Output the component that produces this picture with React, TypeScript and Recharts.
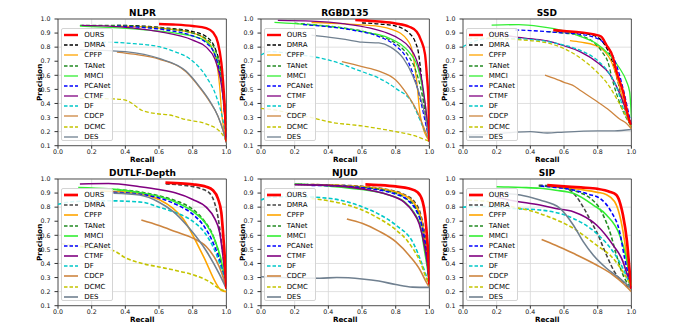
import React from "react";
import { LineChart, Line, XAxis, YAxis, CartesianGrid, Legend, ReferenceArea } from "recharts";

type Pt = [number, number];

const METHODS = ["OURS", "DMRA", "CPFP", "TANet", "MMCI", "PCANet", "CTMF", "DF", "CDCP", "DCMC", "DES"];
const X_TICKS = [0, 0.2, 0.4, 0.6, 0.8, 1.0];
const Y_TICKS = [0.1, 0.2, 0.3, 0.4, 0.5, 0.6, 0.7, 0.8, 0.9, 1.0];

// precision-recall curves, [recall, precision]
const nlpr: Record<string, Pt[]> = {
  OURS: [[0.6, 0.965], [0.7, 0.96], [0.8, 0.95], [0.88, 0.935], [0.92, 0.905], [0.95, 0.83], [0.97, 0.69], [0.98, 0.56], [0.99, 0.38], [1.0, 0.13]],
  DMRA: [[0.35, 0.955], [0.5, 0.95], [0.65, 0.935], [0.8, 0.91], [0.88, 0.875], [0.93, 0.8], [0.96, 0.68], [0.98, 0.5], [0.995, 0.3], [1.0, 0.15]],
  CPFP: [[0.35, 0.95], [0.5, 0.945], [0.65, 0.93], [0.8, 0.9], [0.88, 0.85], [0.92, 0.78], [0.945, 0.67], [0.96, 0.52], [0.97, 0.36], [1.0, 0.13]],
  TANet: [[0.13, 0.955], [0.3, 0.955], [0.45, 0.95], [0.6, 0.935], [0.8, 0.9], [0.9, 0.84], [0.94, 0.76], [0.97, 0.6], [0.99, 0.4], [1.0, 0.15]],
  MMCI: [[0.13, 0.95], [0.3, 0.94], [0.5, 0.925], [0.7, 0.9], [0.85, 0.86], [0.92, 0.78], [0.96, 0.63], [0.98, 0.45], [1.0, 0.15]],
  PCANet: [[0.35, 0.95], [0.5, 0.94], [0.65, 0.92], [0.8, 0.88], [0.88, 0.83], [0.93, 0.75], [0.96, 0.62], [0.98, 0.45], [1.0, 0.15]],
  CTMF: [[0.14, 0.955], [0.3, 0.95], [0.45, 0.935], [0.6, 0.91], [0.8, 0.85], [0.88, 0.8], [0.93, 0.72], [0.96, 0.6], [0.98, 0.45], [1.0, 0.15]],
  DF: [[0.15, 0.835], [0.3, 0.835], [0.45, 0.825], [0.6, 0.803], [0.7, 0.765], [0.78, 0.72], [0.88, 0.59], [0.94, 0.45], [0.98, 0.28], [1.0, 0.15]],
  CDCP: [[0.35, 0.765], [0.45, 0.75], [0.6, 0.715], [0.76, 0.625], [0.84, 0.515], [0.9, 0.415], [0.95, 0.31], [0.98, 0.21], [1.0, 0.12]],
  DCMC: [[0.13, 0.436], [0.33, 0.432], [0.4, 0.424], [0.44, 0.4], [0.5, 0.35], [0.6, 0.325], [0.663, 0.318], [0.76, 0.285], [0.88, 0.255], [0.97, 0.19], [1.0, 0.13]],
  DES: [[0.13, 0.78], [0.3, 0.775], [0.4, 0.768], [0.6, 0.72], [0.76, 0.63], [0.84, 0.52], [0.9, 0.42], [0.95, 0.31], [0.98, 0.21], [1.0, 0.12]],
};

const rgbd135: Record<string, Pt[]> = {
  OURS: [[0.56, 0.993], [0.7, 0.982], [0.8, 0.968], [0.88, 0.945], [0.925, 0.91], [0.95, 0.85], [0.974, 0.75], [0.985, 0.6], [0.995, 0.4], [1.0, 0.13]],
  DMRA: [[0.6, 0.972], [0.71, 0.964], [0.8, 0.95], [0.845, 0.93], [0.88, 0.9], [0.915, 0.84], [0.935, 0.76], [0.945, 0.67], [0.965, 0.44], [0.98, 0.3], [1.0, 0.13]],
  CPFP: [[0.3, 0.975], [0.5, 0.965], [0.71, 0.946], [0.78, 0.925], [0.826, 0.9], [0.87, 0.85], [0.895, 0.79], [0.925, 0.555], [0.945, 0.32], [1.0, 0.13]],
  TANet: [[0.2, 0.97], [0.35, 0.955], [0.5, 0.935], [0.65, 0.9], [0.75, 0.86], [0.83, 0.8], [0.88, 0.73], [0.92, 0.63], [0.95, 0.5], [0.98, 0.3], [1.0, 0.13]],
  MMCI: [[0.08, 0.976], [0.3, 0.958], [0.5, 0.932], [0.65, 0.9], [0.75, 0.87], [0.83, 0.82], [0.89, 0.75], [0.93, 0.66], [0.96, 0.5], [0.98, 0.35], [1.0, 0.13]],
  PCANet: [[0.25, 0.96], [0.4, 0.945], [0.55, 0.92], [0.7, 0.875], [0.8, 0.81], [0.86, 0.73], [0.9, 0.62], [0.94, 0.46], [0.97, 0.3], [1.0, 0.13]],
  CTMF: [[0.1, 0.99], [0.3, 0.985], [0.5, 0.965], [0.65, 0.935], [0.75, 0.9], [0.82, 0.86], [0.88, 0.8], [0.92, 0.72], [0.95, 0.6], [0.975, 0.4], [1.0, 0.13]],
  DF: [[0.0, 0.744], [0.05, 0.768], [0.2, 0.75], [0.4, 0.709], [0.6, 0.626], [0.7, 0.58], [0.8, 0.507], [0.9, 0.4], [0.945, 0.28], [1.0, 0.13]],
  CDCP: [[0.48, 0.697], [0.6, 0.662], [0.7, 0.63], [0.8, 0.567], [0.865, 0.47], [0.925, 0.35], [0.965, 0.235], [1.0, 0.13]],
  DCMC: [[0.0, 0.365], [0.1, 0.35], [0.21, 0.318], [0.3, 0.3], [0.4, 0.27], [0.6, 0.24], [0.8, 0.2], [0.9, 0.175], [1.0, 0.13]],
  DES: [[0.3, 0.885], [0.41, 0.87], [0.5, 0.855], [0.6, 0.835], [0.7, 0.83], [0.77, 0.8], [0.845, 0.72], [0.9, 0.6], [0.945, 0.45], [0.975, 0.31], [1.0, 0.13]],
};

const ssd: Record<string, Pt[]> = {
  OURS: [[0.536, 0.922], [0.6, 0.915], [0.7, 0.905], [0.78, 0.89], [0.82, 0.875], [0.852, 0.815], [0.89, 0.73], [0.911, 0.63], [0.95, 0.484], [0.99, 0.27], [1.0, 0.25]],
  DMRA: [[0.55, 0.915], [0.65, 0.905], [0.75, 0.89], [0.8, 0.87], [0.84, 0.82], [0.88, 0.72], [0.91, 0.6], [0.94, 0.46], [0.97, 0.33], [1.0, 0.25]],
  CPFP: [[0.635, 0.846], [0.7, 0.835], [0.78, 0.815], [0.84, 0.77], [0.88, 0.7], [0.91, 0.6], [0.94, 0.47], [0.97, 0.33], [1.0, 0.22]],
  TANet: [[0.5, 0.91], [0.6, 0.9], [0.7, 0.88], [0.78, 0.83], [0.83, 0.76], [0.86, 0.697], [0.89, 0.555], [0.92, 0.44], [0.96, 0.32], [1.0, 0.24]],
  MMCI: [[0.17, 0.957], [0.33, 0.96], [0.46, 0.946], [0.6, 0.915], [0.7, 0.875], [0.79, 0.827], [0.87, 0.745], [0.93, 0.65], [0.97, 0.56], [0.99, 0.48], [1.0, 0.3]],
  PCANet: [[0.31, 0.922], [0.4, 0.918], [0.55, 0.905], [0.7, 0.89], [0.8, 0.86], [0.86, 0.8], [0.9, 0.71], [0.93, 0.6], [0.96, 0.46], [0.98, 0.35], [1.0, 0.25]],
  CTMF: [[0.18, 0.9], [0.3, 0.875], [0.4, 0.86], [0.5, 0.845], [0.6, 0.81], [0.7, 0.765], [0.8, 0.69], [0.87, 0.61], [0.92, 0.5], [0.96, 0.38], [1.0, 0.25]],
  DF: [[0.0, 0.803], [0.06, 0.839], [0.15, 0.86], [0.3, 0.86], [0.5, 0.84], [0.6, 0.815], [0.7, 0.775], [0.8, 0.705], [0.87, 0.61], [0.92, 0.49], [0.95, 0.37], [1.0, 0.24]],
  CDCP: [[0.487, 0.602], [0.55, 0.575], [0.6, 0.55], [0.65, 0.53], [0.7, 0.49], [0.8, 0.41], [0.87, 0.35], [0.93, 0.29], [0.97, 0.26], [1.0, 0.22]],
  DCMC: [[0.03, 0.86], [0.15, 0.865], [0.3, 0.855], [0.5, 0.83], [0.6, 0.79], [0.7, 0.72], [0.79, 0.63], [0.87, 0.52], [0.91, 0.44], [0.95, 0.35], [1.0, 0.24]],
  DES: [[0.03, 0.175], [0.15, 0.18], [0.3, 0.195], [0.4, 0.2], [0.5, 0.19], [0.6, 0.197], [0.8, 0.205], [0.9, 0.205], [1.0, 0.215]],
};

const dutlf: Record<string, Pt[]> = {
  OURS: [[0.638, 0.974], [0.7, 0.97], [0.8, 0.962], [0.88, 0.945], [0.92, 0.92], [0.95, 0.86], [0.97, 0.76], [0.98, 0.62], [0.99, 0.45], [1.0, 0.22]],
  DMRA: [[0.64, 0.965], [0.75, 0.955], [0.85, 0.93], [0.9, 0.9], [0.93, 0.83], [0.95, 0.73], [0.97, 0.56], [0.99, 0.35], [1.0, 0.22]],
  CPFP: [[0.25, 0.915], [0.35, 0.91], [0.486, 0.898], [0.6, 0.855], [0.683, 0.792], [0.742, 0.72], [0.86, 0.46], [0.97, 0.21], [1.0, 0.2]],
  TANet: [[0.35, 0.925], [0.5, 0.905], [0.6, 0.88], [0.7, 0.845], [0.8, 0.785], [0.87, 0.7], [0.92, 0.6], [0.96, 0.45], [1.0, 0.22]],
  MMCI: [[0.12, 0.94], [0.3, 0.93], [0.5, 0.9], [0.6, 0.875], [0.7, 0.835], [0.8, 0.77], [0.88, 0.68], [0.93, 0.57], [0.97, 0.42], [1.0, 0.22]],
  PCANet: [[0.33, 0.905], [0.5, 0.89], [0.6, 0.865], [0.7, 0.82], [0.8, 0.75], [0.87, 0.66], [0.92, 0.55], [0.96, 0.42], [1.0, 0.22]],
  CTMF: [[0.13, 0.965], [0.3, 0.968], [0.486, 0.945], [0.6, 0.925], [0.7, 0.9], [0.8, 0.855], [0.88, 0.8], [0.93, 0.72], [0.96, 0.62], [0.98, 0.45], [1.0, 0.22]],
  DF: [[0.0, 0.82], [0.1, 0.84], [0.3, 0.845], [0.5, 0.835], [0.6, 0.8], [0.7, 0.76], [0.8, 0.7], [0.87, 0.62], [0.92, 0.52], [0.96, 0.4], [1.0, 0.22]],
  CDCP: [[0.495, 0.709], [0.6, 0.67], [0.7, 0.625], [0.8, 0.58], [0.88, 0.52], [0.94, 0.42], [0.97, 0.34], [1.0, 0.22]],
  DCMC: [[0.02, 0.54], [0.2, 0.51], [0.33, 0.49], [0.4, 0.44], [0.5, 0.4], [0.6, 0.375], [0.7, 0.35], [0.8, 0.32], [0.9, 0.27], [0.96, 0.22], [1.0, 0.2]],
  DES: [[0.33, 0.9], [0.486, 0.886], [0.6, 0.835], [0.683, 0.77], [0.78, 0.65], [0.88, 0.49], [0.96, 0.32], [1.0, 0.22]],
};

const njud: Record<string, Pt[]> = {
  OURS: [[0.62, 0.962], [0.7, 0.957], [0.8, 0.947], [0.88, 0.932], [0.93, 0.905], [0.96, 0.84], [0.975, 0.74], [0.985, 0.6], [0.995, 0.42], [1.0, 0.25]],
  DMRA: [[0.22, 0.962], [0.4, 0.958], [0.6, 0.948], [0.75, 0.925], [0.85, 0.89], [0.91, 0.84], [0.945, 0.76], [0.97, 0.63], [0.99, 0.45], [1.0, 0.25]],
  CPFP: [[0.3, 0.96], [0.5, 0.952], [0.7, 0.932], [0.85, 0.885], [0.92, 0.81], [0.955, 0.7], [0.975, 0.55], [0.99, 0.4], [1.0, 0.25]],
  TANet: [[0.2, 0.962], [0.4, 0.955], [0.6, 0.94], [0.75, 0.915], [0.85, 0.87], [0.92, 0.79], [0.955, 0.67], [0.98, 0.5], [1.0, 0.25]],
  MMCI: [[0.2, 0.965], [0.4, 0.95], [0.6, 0.925], [0.75, 0.89], [0.85, 0.84], [0.91, 0.76], [0.95, 0.65], [0.97, 0.5], [0.99, 0.35], [1.0, 0.25]],
  PCANet: [[0.3, 0.955], [0.5, 0.948], [0.65, 0.93], [0.78, 0.9], [0.87, 0.85], [0.92, 0.78], [0.955, 0.67], [0.98, 0.5], [1.0, 0.25]],
  CTMF: [[0.2, 0.96], [0.4, 0.955], [0.6, 0.93], [0.75, 0.89], [0.85, 0.835], [0.9, 0.77], [0.94, 0.68], [0.97, 0.53], [0.99, 0.38], [1.0, 0.25]],
  DF: [[0.0, 0.85], [0.05, 0.87], [0.2, 0.875], [0.4, 0.863], [0.6, 0.803], [0.7, 0.75], [0.8, 0.673], [0.905, 0.543], [0.955, 0.4], [0.985, 0.3], [1.0, 0.25]],
  CDCP: [[0.51, 0.716], [0.6, 0.685], [0.7, 0.63], [0.8, 0.555], [0.885, 0.45], [0.945, 0.353], [0.985, 0.26], [1.0, 0.23]],
  DCMC: [[0.3, 0.862], [0.4, 0.845], [0.5, 0.82], [0.6, 0.78], [0.7, 0.72], [0.8, 0.64], [0.87, 0.56], [0.905, 0.5], [0.95, 0.4], [0.98, 0.3], [1.0, 0.25]],
  DES: [[0.0, 0.306], [0.2, 0.298], [0.35, 0.295], [0.45, 0.3], [0.6, 0.29], [0.7, 0.275], [0.8, 0.25], [0.9, 0.232], [1.0, 0.23]],
};

const sip: Record<string, Pt[]> = {
  OURS: [[0.5, 0.957], [0.6, 0.948], [0.7, 0.94], [0.8, 0.93], [0.87, 0.91], [0.911, 0.886], [0.935, 0.82], [0.95, 0.744], [0.974, 0.555], [0.99, 0.34], [1.0, 0.22]],
  DMRA: [[0.45, 0.955], [0.55, 0.95], [0.615, 0.934], [0.67, 0.88], [0.714, 0.8], [0.76, 0.7], [0.793, 0.626], [0.852, 0.46], [0.9, 0.34], [0.93, 0.29], [1.0, 0.22]],
  CPFP: [[0.5, 0.95], [0.6, 0.94], [0.7, 0.925], [0.8, 0.905], [0.85, 0.89], [0.9, 0.84], [0.93, 0.744], [0.96, 0.555], [0.98, 0.366], [1.0, 0.22]],
  TANet: [[0.45, 0.95], [0.6, 0.935], [0.7, 0.9], [0.76, 0.86], [0.812, 0.79], [0.845, 0.71], [0.872, 0.626], [0.911, 0.46], [0.95, 0.32], [1.0, 0.22]],
  MMCI: [[0.2, 0.945], [0.35, 0.94], [0.457, 0.934], [0.55, 0.92], [0.655, 0.898], [0.773, 0.815], [0.852, 0.744], [0.93, 0.602], [0.97, 0.437], [0.99, 0.3], [1.0, 0.25]],
  PCANet: [[0.46, 0.95], [0.55, 0.94], [0.655, 0.922], [0.75, 0.89], [0.812, 0.863], [0.88, 0.768], [0.93, 0.626], [0.96, 0.437], [0.985, 0.3], [1.0, 0.22]],
  CTMF: [[0.2, 0.87], [0.3, 0.845], [0.457, 0.815], [0.55, 0.79], [0.655, 0.768], [0.793, 0.673], [0.891, 0.53], [0.95, 0.413], [0.98, 0.3], [1.0, 0.22]],
  DF: [[0.0, 0.8], [0.1, 0.805], [0.2, 0.8], [0.3, 0.79], [0.457, 0.78], [0.655, 0.72], [0.793, 0.614], [0.891, 0.484], [0.95, 0.366], [1.0, 0.22]],
  CDCP: [[0.467, 0.571], [0.55, 0.53], [0.655, 0.472], [0.793, 0.389], [0.891, 0.318], [0.95, 0.26], [1.0, 0.2]],
  DCMC: [[0.03, 0.85], [0.15, 0.84], [0.3, 0.8], [0.4, 0.775], [0.5, 0.735], [0.655, 0.65], [0.793, 0.53], [0.891, 0.437], [0.95, 0.34], [1.0, 0.24]],
  DES: [[0.2, 0.9], [0.34, 0.886], [0.457, 0.85], [0.576, 0.792], [0.655, 0.673], [0.714, 0.555], [0.773, 0.46], [0.852, 0.366], [0.93, 0.295], [1.0, 0.22]],
};

const TITLES = ["NLPR", "RGBD135", "SSD", "DUTLF-Depth", "NJUD", "SIP"];
const CURVES = [nlpr, rgbd135, ssd, dutlf, njud, sip];

const COLORS: Record<string, string> = {
  OURS: "#ff0000",
  DMRA: "#000000",
  CPFP: "#ffa500",
  TANet: "#228b22",
  MMCI: "#33ee33",
  PCANet: "#0000ff",
  CTMF: "#800080",
  DF: "#00c8c8",
  CDCP: "#cd853f",
  DCMC: "#c4c400",
  DES: "#708090",
};
const DASHED = new Set(["DMRA", "TANet", "PCANet", "DF", "DCMC"]);

const FONT = "DejaVu Sans";
const PLOT_W = 168.4;
const PLOT_H = 126.7;
const COL_X = [58.3, 260.7, 462.7];
const ROW_Y = [19, 179];
const AX_W = 40;
const TOP = 4;
const CW = AX_W + PLOT_W + 6;
const CH = TOP + PLOT_H + 20;

const fmt = (v: number) => v.toFixed(1);

function lineProps(m: string, row: number) {
  const base = row === 0 ? 1.3 : 1.6;
  const color = m === "DMRA" && row === 1 ? "#444444" : COLORS[m];
  return {
    stroke: color,
    strokeWidth: m === "OURS" ? base + 1.1 : base,
    strokeDasharray: DASHED.has(m) ? "4 2.2" : undefined,
  };
}

function LegendBox({ row }: { row: number }) {
  return (
    <div
      style={{
        width: 52,
        height: 113,
        boxSizing: "border-box",
        border: "1px solid #d4d4d4",
        borderRadius: 2,
        background: "rgba(255,255,255,0.85)",
        paddingTop: 0.6,
        fontFamily: FONT,
        fontSize: 7,
        color: "#000",
      }}
    >
      {METHODS.map((m) => {
        const p = lineProps(m, row);
        return (
          <div key={m} style={{ height: 10.2, display: "flex", alignItems: "center", whiteSpace: "nowrap" }}>
            <svg width={14} height={6} style={{ marginLeft: 2, marginRight: 6, flex: "none" }}>
              <line x1={0} y1={3} x2={14} y2={3} stroke={p.stroke} strokeWidth={p.strokeWidth} strokeDasharray={p.strokeDasharray ? "3.5 2" : undefined} />
            </svg>
            <span>{m}</span>
          </div>
        );
      })}
    </div>
  );
}

function Panel({ idx }: { idx: number }) {
  const row = Math.floor(idx / 3);
  const col = idx % 3;
  const curves = CURVES[idx];
  const order = [...METHODS.slice(1), "OURS"];
  return (
    <div style={{ position: "absolute", left: COL_X[col] - AX_W, top: ROW_Y[row] - TOP, width: CW, height: CH }}>
      <div
        style={{
          position: "absolute",
          left: AX_W,
          width: PLOT_W,
          top: -8,
          height: 12,
          lineHeight: "12px",
          textAlign: "center",
          fontFamily: FONT,
          fontWeight: "bold",
          fontSize: 9,
          color: "#000",
        }}
      >
        {TITLES[idx]}
      </div>
      <LineChart width={CW} height={CH} margin={{ top: TOP, right: 6, bottom: 0, left: 0 }}>
        <CartesianGrid stroke="#d8d8d8" strokeWidth={0.8} />
        <XAxis
          type="number"
          dataKey="x"
          domain={[0, 1]}
          ticks={X_TICKS}
          tickFormatter={fmt}
          allowDataOverflow
          height={20}
          axisLine={false}
          tickSize={3}
          tickMargin={1}
          tickLine={{ stroke: "#333" }}
          tick={{ fontSize: 6.3, fill: "#111", fontFamily: FONT }}
          label={{ value: "Recall", position: "insideBottom", offset: 3.5, style: { fontFamily: FONT, fontWeight: "bold", fontSize: 7.2, fill: "#000" } }}
        />
        <YAxis
          type="number"
          domain={[0.1, 1]}
          ticks={Y_TICKS}
          tickFormatter={fmt}
          allowDataOverflow
          width={AX_W}
          axisLine={false}
          tickSize={3.5}
          tickMargin={4}
          tickLine={{ stroke: "#333" }}
          tick={{ fontSize: 6.3, fill: "#111", fontFamily: FONT }}
          label={{ value: "Precision", angle: -90, position: "insideLeft", offset: 21.7, style: { textAnchor: "middle", fontFamily: FONT, fontWeight: "bold", fontSize: 7.2, fill: "#000" } }}
        />
        <ReferenceArea x1={0} x2={1} y1={0.1} y2={1} fill="none" stroke="#333" strokeWidth={0.8} ifOverflow="visible" />
        {order.map((m) => (
          <Line
            key={m}
            data={curves[m].map(([x, y]) => ({ x, y }))}
            dataKey="y"
            type="monotone"
            dot={false}
            activeDot={false}
            isAnimationActive={false}
            {...lineProps(m, row)}
          />
        ))}
        <Legend
          layout="vertical"
          align="center"
          verticalAlign="middle"
          wrapperStyle={{ left: AX_W + 3, top: TOP + 9.3, width: 52, height: 113 }}
          content={() => <LegendBox row={row} />}
        />
      </LineChart>
    </div>
  );
}

export default function App() {
  return (
    <div style={{ position: "absolute", left: 0, top: 0, width: 677, height: 327, background: "#fff", overflow: "hidden" }}>
      {[0, 1, 2, 3, 4, 5].map((i) => (
        <Panel key={i} idx={i} />
      ))}
    </div>
  );
}
